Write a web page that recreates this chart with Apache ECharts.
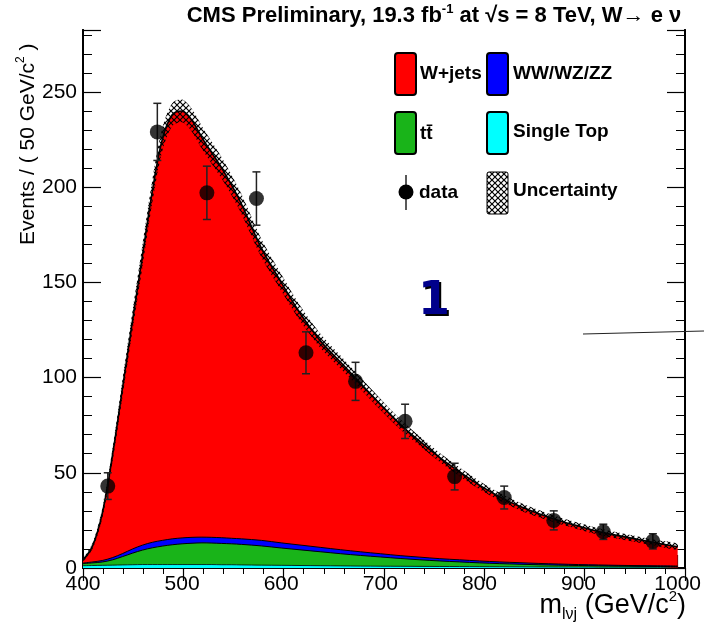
<!DOCTYPE html>
<html><head><meta charset="utf-8">
<script src="https://cdn.jsdelivr.net/npm/echarts@6/dist/echarts.min.js"></script>
<style>html,body{margin:0;padding:0;background:#fff}#c{width:704px;height:625px}</style>
</head><body><div id="c"></div>
<script>
// ---------- data ----------
const massPoints = [400,410,420,430,440,450,460,470,480,490,500,510,520,530,540,550,560,
  580,600,620,640,660,680,700,720,740,760,780,800,820,840,860,880,900,920,940,960,980,1000];
const singleTop = [1.2,1.3,1.4,1.5,1.6,1.7,1.8,1.8,1.8,1.8,1.8,1.8,1.8,1.8,1.7,1.7,1.6,
  1.5,1.4,1.3,1.2,1.1,1.0,0.95,0.9,0.85,0.8,0.75,0.7,0.65,0.6,0.55,0.5,0.5,0.45,0.45,0.4,0.4,0.4];
const ttbar = [1.1,1.4,1.8,2.8,4.4,6.1,7.6,8.8,9.7,10.4,10.9,11.2,11.4,11.3,11.2,11.0,10.8,
  10.1,9.1,8.2,7.3,6.4,5.6,4.85,4.1,3.45,2.9,2.45,2.0,1.65,1.4,1.15,1.0,0.8,0.7,0.55,0.5,0.4,0.35];
const diboson = [0.3,0.5,0.8,1.2,1.6,2.2,2.6,2.9,3.0,3.1,3.1,3.1,3.0,3.0,3.0,2.9,2.9,
  2.9,2.7,2.5,2.3,2.1,1.9,1.7,1.5,1.4,1.2,1.1,1.0,0.9,0.8,0.7,0.6,0.5,0.45,0.4,0.35,0.35,0.3];
const wjets = [1.4,8.8,26,54.5,87.4,120,152,184.5,210.5,222.7,224.2,218.9,209.8,201.9,194.1,185.4,175.7,
  153.5,136.8,121,108.2,98.4,88.5,78.5,69,60.8,53.1,46.2,39.8,34.3,29.7,26.1,22.9,20.2,17.6,15.6,13.75,11.85,10.15];
const uncertainty = [0.8,1.5,2.5,3.5,4.5,5.2,5.8,6,6,6,6,6,6,5.8,5.6,5.4,5.2,
  4.8,4.4,4,3.7,3.4,3.1,2.9,2.7,2.5,2.4,2.3,2.2,2.1,2.0,1.9,1.8,1.75,1.7,1.65,1.6,1.55,1.5];

const binCenters = [425,475,525,575,625,675,725,775,825,875,925,975];
const dataCounts = [43,229,197,194,113,98,77,48,37,25,19,14];
const dataErrors = [7,15,14,14,11,10,9,7,6,5,4,4];

const xTickLabels = ['400','500','600','700','800','900','1000'];
const yTickLabels = ['0','50','100','150','200','250'];

// ---------- stacked layer boundaries built from the components ----------
const cumST = singleTop.slice();
const cumTT = cumST.map((v, i) => v + ttbar[i]);
const cumDB = cumTT.map((v, i) => v + diboson[i]);
const cumAll = cumDB.map((v, i) => v + wjets[i]);
const pair = arr => massPoints.map((x, i) => [x, arr[i]]);

const hatch = (() => {
  const c = document.createElement('canvas'); c.width = 6; c.height = 6;
  const g = c.getContext('2d'); g.strokeStyle = '#000'; g.lineWidth = 1.2;
  g.beginPath(); g.moveTo(0, 0); g.lineTo(6, 6); g.moveTo(6, 0); g.lineTo(0, 6); g.stroke();
  return c;
})();
const hatchFill = { image: hatch, repeat: 'repeat' };

const FONT = 'Liberation Sans, Arial, Helvetica, sans-serif';
const gridRect = { left: 83, right: 19, top: 30, bottom: 57, containLabel: false };
const noSplit = { show: false };
const black = w => ({ color: '#000', width: w });

const xMain = (gi, pos, labels) => ({
  gridIndex: gi, type: 'value', min: 400, max: 1000, interval: 100, position: pos,
  axisLine: { show: true, lineStyle: black(2) },
  axisTick: { show: true, inside: true, length: 13, lineStyle: black(1.2) },
  minorTick: { show: true, splitNumber: 5, length: 6, lineStyle: black(1) },
  axisLabel: { show: labels, color: '#000', fontSize: 21, fontFamily: FONT, margin: 6,
    formatter: v => xTickLabels.indexOf(String(v)) >= 0 ? String(v) : '' },
  splitLine: noSplit
});
const yMain = (gi, pos, labels) => ({
  gridIndex: gi, type: 'value', min: 0, max: 282.5, interval: 50, position: pos,
  axisLine: { show: true, lineStyle: black(2) },
  axisTick: { show: true, inside: true, length: 18, lineStyle: black(1.2) },
  axisLabel: { show: labels, color: '#000', fontSize: 21, fontFamily: FONT, margin: 6,
    formatter: v => yTickLabels.indexOf(String(v)) >= 0 ? String(v) : '' },
  splitLine: noSplit
});
const yMinor = (gi, pos) => ({
  gridIndex: gi, type: 'value', min: 0, max: 282.5, interval: 10, position: pos,
  axisLine: { show: true, lineStyle: black(2) },
  axisTick: { show: true, inside: true, length: 9, lineStyle: black(1) },
  axisLabel: { show: false }, splitLine: noSplit
});
const xHidden = gi => ({ gridIndex: gi, type: 'value', min: 400, max: 1000, show: false, splitLine: noSplit });

const layer = (name, arr, color, lw) => ({
  name, type: 'line', data: pair(arr), smooth: 0.35, symbol: 'none', z: 2,
  lineStyle: { color: '#000', width: lw }, areaStyle: { color, opacity: 1, origin: 'start' },
  xAxisIndex: 0, yAxisIndex: 0
});

const option = {
  animation: false,
  backgroundColor: '#fff',
  grid: [gridRect, gridRect, gridRect, gridRect],
  xAxis: [xMain(0, 'bottom', true), xMain(1, 'top', false), xHidden(2), xHidden(3)],
  yAxis: [yMain(0, 'left', true), yMain(1, 'right', false), yMinor(2, 'left'), yMinor(3, 'right')],
  series: [
    layer('W+jets', cumAll, '#ff0000', 1.6),
    layer('WW/WZ/ZZ', cumDB, '#0000ff', 1),
    layer('tt', cumTT, '#19b419', 1),
    layer('Single Top', cumST, '#00ffff', 0.8),
    { name: 'Uncertainty', type: 'custom', z: 3, xAxisIndex: 0, yAxisIndex: 0, clip: true,
      data: [[massPoints[0], 0]],
      renderItem: (params, api) => {
        const up = massPoints.map((x, i) => api.coord([x, cumAll[i] + uncertainty[i]]));
        const lo = massPoints.map((x, i) => api.coord([x, cumAll[i] - uncertainty[i]])).reverse();
        return { type: 'polygon', shape: { points: up.concat(lo), smooth: 0.3 },
          style: { fill: hatchFill, stroke: null } };
      } },
    { name: 'errors', type: 'custom', z: 5, xAxisIndex: 0, yAxisIndex: 0,
      data: binCenters.map((x, i) => [x, dataCounts[i], dataErrors[i]]),
      renderItem: (params, api) => {
        const x = api.value(0), y = api.value(1), e = api.value(2);
        const t = api.coord([x, y + e]), b = api.coord([x, y - e]);
        const st = { stroke: '#222', lineWidth: 1.5 };
        return { type: 'group', children: [
          { type: 'line', shape: { x1: t[0], y1: t[1], x2: b[0], y2: b[1] }, style: st },
          { type: 'line', shape: { x1: t[0] - 4, y1: t[1], x2: t[0] + 4, y2: t[1] }, style: st },
          { type: 'line', shape: { x1: b[0] - 4, y1: b[1], x2: b[0] + 4, y2: b[1] }, style: st }
        ]};
      } },
    { name: 'data', type: 'scatter', z: 6, symbol: 'circle', symbolSize: 15,
      itemStyle: { color: '#000' }, xAxisIndex: 0, yAxisIndex: 0,
      data: binCenters.map((x, i) => [x, dataCounts[i]]) }
  ],
  graphic: [
    // title
    { type: 'text', x: 434, y: 15, z: 10, style: {
      text: '{b|CMS Preliminary, 19.3 fb}{s|-1}{b| at √s = 8 TeV, W→ e ν}',
      align: 'center', verticalAlign: 'middle',
      rich: {
        b: { fontFamily: FONT, fontWeight: 'bold', fontSize: 22, fill: '#000', lineHeight: 24, verticalAlign: 'bottom' },
        s: { fontFamily: FONT, fontWeight: 'bold', fontSize: 13, fill: '#000', lineHeight: 24, verticalAlign: 'top' }
      } } },
    // y axis title
    { type: 'text', x: 27, y: 245, rotation: Math.PI / 2, z: 10, style: {
      text: '{t|Events / ( 50 GeV/c}{s|2}{t| )}', align: 'left', verticalAlign: 'middle',
      rich: {
        t: { fontFamily: FONT, fontSize: 21, fill: '#000', lineHeight: 24, verticalAlign: 'bottom' },
        s: { fontFamily: FONT, fontSize: 12, fill: '#000', lineHeight: 24, verticalAlign: 'top' }
      } } },
    // x axis title
    { type: 'text', x: 686, y: 606, z: 10, style: {
      text: '{m|m}{sub|lνj}{m| (GeV/c}{sup|2}{m|)}', align: 'right', verticalAlign: 'middle',
      rich: {
        m: { fontFamily: FONT, fontSize: 27, fill: '#000', lineHeight: 34, verticalAlign: 'middle' },
        sub: { fontFamily: FONT, fontSize: 16, fill: '#000', lineHeight: 34, verticalAlign: 'bottom' },
        sup: { fontFamily: FONT, fontSize: 15, fill: '#000', lineHeight: 34, verticalAlign: 'top' }
      } } },
    // legend
    { type: 'rect', z: 10, shape: { x: 395, y: 53, width: 21, height: 42, r: 3 }, style: { fill: '#ff0000', stroke: '#000', lineWidth: 2 } },
    { type: 'text', z: 10, x: 420, y: 74, style: { text: 'W+jets', fontFamily: FONT, fontWeight: 'bold', fontSize: 19, fill: '#000', verticalAlign: 'middle' } },
    { type: 'rect', z: 10, shape: { x: 487, y: 53, width: 21, height: 42, r: 3 }, style: { fill: '#0000ff', stroke: '#000', lineWidth: 2 } },
    { type: 'text', z: 10, x: 513, y: 74, style: { text: 'WW/WZ/ZZ', fontFamily: FONT, fontWeight: 'bold', fontSize: 19, fill: '#000', verticalAlign: 'middle' } },
    { type: 'rect', z: 10, shape: { x: 395, y: 112, width: 21, height: 42, r: 3 }, style: { fill: '#19b419', stroke: '#000', lineWidth: 2 } },
    { type: 'text', z: 10, x: 420, y: 134, style: { text: 'tt̄', fontFamily: FONT, fontWeight: 'bold', fontSize: 19, fill: '#000', verticalAlign: 'middle' } },
    { type: 'rect', z: 10, shape: { x: 487, y: 112, width: 21, height: 42, r: 3 }, style: { fill: '#00ffff', stroke: '#000', lineWidth: 2 } },
    { type: 'text', z: 10, x: 513, y: 132, style: { text: 'Single Top', fontFamily: FONT, fontWeight: 'bold', fontSize: 19, fill: '#000', verticalAlign: 'middle' } },
    { type: 'line', z: 10, shape: { x1: 406, y1: 175, x2: 406, y2: 210 }, style: { stroke: '#222', lineWidth: 1.5 } },
    { type: 'circle', z: 10, shape: { cx: 406, cy: 192, r: 7.5 }, style: { fill: '#000' } },
    { type: 'text', z: 10, x: 419, y: 193, style: { text: 'data', fontFamily: FONT, fontWeight: 'bold', fontSize: 19, fill: '#000', verticalAlign: 'middle' } },
    { type: 'rect', z: 10, shape: { x: 487, y: 172, width: 21, height: 42, r: 2 }, style: { fill: hatchFill, stroke: '#000', lineWidth: 1 } },
    { type: 'text', z: 10, x: 513, y: 191, style: { text: 'Uncertainty', fontFamily: FONT, fontWeight: 'bold', fontSize: 19, fill: '#000', verticalAlign: 'middle' } },
    // annotation "1" (shadow copy + main) and stray line
    { type: 'text', z: 10, x: 436, y: 304, style: { text: '1', fontFamily: 'DejaVu Sans', fontWeight: 'bold', fontSize: 46,
      fill: '#000', align: 'center', verticalAlign: 'middle' } },
    { type: 'text', z: 11, x: 434, y: 302, style: { text: '1', fontFamily: 'DejaVu Sans', fontWeight: 'bold', fontSize: 46,
      fill: '#00008b', align: 'center', verticalAlign: 'middle' } },
    { type: 'line', z: 10, shape: { x1: 583, y1: 334, x2: 704, y2: 331 }, style: { stroke: '#222', lineWidth: 1 } }
  ]
};

const chart = echarts.init(document.getElementById('c'), null, { renderer: 'canvas' });
chart.setOption(option);
</script>
</body></html>
